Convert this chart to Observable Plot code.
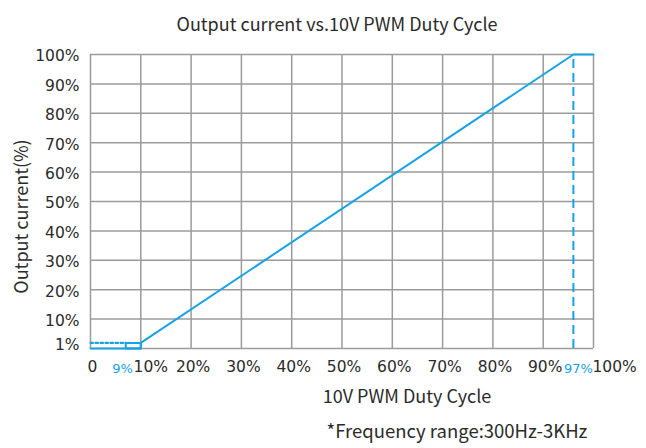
<!DOCTYPE html>
<html>
<head>
<meta charset="utf-8">
<script src="https://cdn.jsdelivr.net/npm/d3@7"></script>
<script src="https://cdn.jsdelivr.net/npm/@observablehq/plot@0.6"></script>
<style>
  html, body { margin: 0; padding: 0; background: #fff; }
</style>
</head>
<body>
<div id="chart"></div>
<script>
// ---- data ----
const xTicks = [0, 10, 20, 30, 40, 50, 60, 70, 80, 90];
const xTickLabels = ["0", "10%", "20%", "30%", "40%", "50%", "60%", "70%", "80%", "90%"];
const xEnd = 100;
const xEndLabel = "100%";
const yTicks = [10, 20, 30, 40, 50, 60, 70, 80, 90, 100];
const yTickLabels = ["10%", "20%", "30%", "40%", "50%", "60%", "70%", "80%", "90%", "100%"];
const minLevel = 1.9;          // drawn height of the 1% plateau
const minLevelLabel = "1%";
const curveX = [0, 10, 10, 96, 100];
const curveY = [0, 0, minLevel, 100, 100];
const boxX = [7, 10];          // small box at the start
const dottedX = [0, 7];
const dashedX = 96;            // full-output threshold line
const lowMarkerX = 9, lowMarkerLabel = "9%";
const highMarkerX = 97, highMarkerLabel = "97%";

const title = "Output current vs.10V PWM Duty Cycle";
const xLabel = "10V PWM Duty Cycle";
const yLabel = "Output current(%)";
const caption = "*Frequency range:300Hz-3KHz";

// ---- styles ----
const blue = "#16a2e6";
const grid = "#9b9b9b";
const ink = "#2b2b2b";
const tickFont = "DejaVu Sans";
const textFont = "Noto Sans CJK SC";

const curve = curveX.map((x, i) => ({x, y: curveY[i]}));
const box = [
  {x: boxX[0], y: 0}, {x: boxX[0], y: minLevel}, {x: boxX[1], y: minLevel},
  {x: boxX[1], y: 0}, {x: boxX[0], y: 0}
];
const dotted = dottedX.map(x => ({x, y: minLevel}));
const xLabelOf = d => xTickLabels[xTicks.indexOf(d)];

const chart = Plot.plot({
  width: 646,
  height: 448,
  marginTop: 54,
  marginBottom: 100,
  marginLeft: 90,
  marginRight: 53,
  style: {fontFamily: tickFont, fontSize: "15px", color: ink, background: "#fff"},
  x: {domain: [0, 100], axis: null},
  y: {domain: [0, 100], axis: null},
  marks: [
    Plot.ruleX(xTicks.concat([xEnd]), {stroke: grid, strokeWidth: 1.5, strokeOpacity: 1}),
    Plot.ruleY([0].concat(yTicks), {stroke: grid, strokeWidth: 1.5, strokeOpacity: 1}),
    // x tick labels
    Plot.text(xTicks.filter(d => d !== boxX[1]), {x: d => d, text: xLabelOf, frameAnchor: "bottom",
      lineAnchor: "middle", dy: 19, dx: 2, fill: ink, fontSize: 15.5}),
    Plot.text(xTicks.filter(d => d === boxX[1]), {x: d => d, text: xLabelOf, frameAnchor: "bottom",
      lineAnchor: "middle", dy: 19, dx: 10, fill: ink, fontSize: 15.5}),
    Plot.text([xEnd], {x: d => d, text: () => xEndLabel, frameAnchor: "bottom",
      lineAnchor: "middle", dy: 19, textAnchor: "start", dx: -1, fill: ink, fontSize: 15.5}),
    // blue marker labels
    Plot.text([lowMarkerX], {x: d => d, text: () => lowMarkerLabel, frameAnchor: "bottom",
      lineAnchor: "middle", dy: 20, fill: blue, fontSize: 13, textAnchor: "end", dx: -3}),
    Plot.text([highMarkerX], {x: d => d, text: () => highMarkerLabel, frameAnchor: "bottom",
      lineAnchor: "middle", dy: 20, fill: blue, fontSize: 13, textAnchor: "middle"}),
    // y tick labels
    Plot.text(yTicks, {y: d => d, text: (d, i) => yTickLabels[i], frameAnchor: "left",
      textAnchor: "end", dx: -11, dy: 2, fill: ink, fontSize: 15.5}),
    Plot.text([minLevel], {y: d => d, text: () => minLevelLabel, frameAnchor: "left",
      textAnchor: "end", dx: -11, dy: 2, fill: ink, fontSize: 15.5}),
    // curve
    Plot.line(dotted, {x: "x", y: "y", stroke: blue, strokeWidth: 2.2, strokeDasharray: "2.5,2.5"}),
    Plot.line(box, {x: "x", y: "y", stroke: blue, strokeWidth: 2}),
    Plot.ruleX([dashedX], {y1: 0, y2: 100, stroke: blue, strokeWidth: 2, strokeDasharray: "9,5"}),
    Plot.line(curve, {x: "x", y: "y", stroke: blue, strokeWidth: 2}),
    // titles
    Plot.text([title], {text: d => d, frameAnchor: "top", dy: -36, dx: -5,
      fontFamily: textFont, fontSize: 18, fill: ink}),
    Plot.text([xLabel], {text: d => d, frameAnchor: "bottom", dy: 54, dx: 65,
      fontFamily: textFont, fontSize: 18, fill: ink}),
    Plot.text([caption], {text: d => d, frameAnchor: "bottom", dy: 89, dx: 115,
      fontFamily: textFont, fontSize: 18.5, fill: ink, letterSpacing: "0.3px"}),
    Plot.text([yLabel], {text: d => d, frameAnchor: "left", textAnchor: "middle", rotate: -90,
      dx: -68, dy: 15, fontFamily: textFont, fontSize: 18, fill: ink})
  ]
});
document.getElementById("chart").appendChild(chart);
</script>
</body>
</html>
